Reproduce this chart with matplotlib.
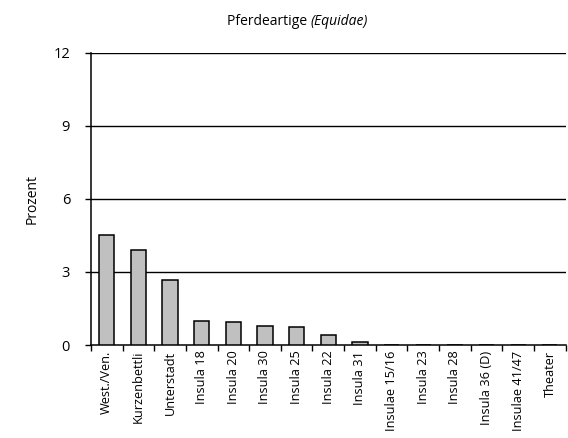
import numpy as np
import matplotlib
matplotlib.use("Agg")
import matplotlib.pyplot as plt

# --- data ---
SITES = ['West./Ven.', 'Kurzenbettli', 'Unterstadt', 'Insula 18', 'Insula 20',
         'Insula 30', 'Insula 25', 'Insula 22', 'Insula 31', 'Insulae 15/16',
         'Insula 23', 'Insula 28', 'Insula 36 (D)', 'Insulae 41/47', 'Theater']
PERCENT = [4.52, 3.9, 2.68, 0.98, 0.94, 0.77, 0.72, 0.40, 0.14, 0, 0, 0, 0, 0, 0]
Y_TICKS = [0, 3, 6, 9, 12]

plt.rcParams['font.family'] = ['Open Sans', 'DejaVu Sans']

fig = plt.figure(figsize=(5.68, 4.38), dpi=100)
ax = fig.add_axes([0.160, 0.2123, 0.836, 0.667])

x = np.arange(len(SITES))
ax.bar(x, PERCENT, width=0.48, color='#c0c0c0', edgecolor='black', linewidth=1.1, zorder=3)

ax.set_xlim(-0.5, len(SITES) - 0.5)
ax.set_ylim(0, 12)
ax.set_yticks(Y_TICKS)
for v in Y_TICKS[1:]:
    ax.axhline(v, color='black', linewidth=1.0, zorder=1)

# category labels centred, tick marks on the category boundaries
ax.set_xticks(x)
ax.set_xticklabels(SITES, rotation=90, fontsize=9.2)
ax.tick_params(axis='x', length=0, pad=4)
ax.set_xticks(np.arange(len(SITES) + 1) - 0.5, minor=True)
ax.tick_params(axis='x', which='minor', length=4, direction='out', width=1)
ax.tick_params(axis='y', length=4, direction='out', width=1, labelsize=10.5, pad=11)

for s in ['top', 'right']:
    ax.spines[s].set_visible(False)
ax.spines['left'].set_linewidth(1.1)
ax.spines['bottom'].set_linewidth(1.1)

ax.set_ylabel('Prozent', fontsize=10)
ax.yaxis.set_label_coords(-0.107, 0.5)

# title: plain part + italic part, placed side by side
t1 = fig.text(0.40, 0.95, 'Pferdeartige ', fontsize=10, va='center', ha='left')
fig.canvas.draw()
t2 = ax.annotate('(Equidae)', xy=(1, 0), xycoords=t1, va='bottom', ha='left',
                 fontsize=10, fontstyle='italic')

fig.savefig('out.png', dpi=100)
